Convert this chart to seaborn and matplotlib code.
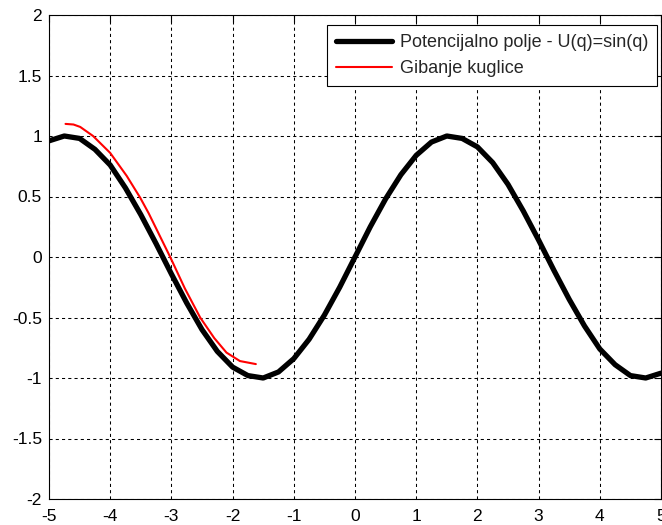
import numpy as np
import pandas as pd
import matplotlib
matplotlib.use("Agg")
import matplotlib.pyplot as plt
import seaborn as sns

# potential U(q) = sin(q)
q_pot = [-5.0, -4.75, -4.5, -4.25, -4.0, -3.75, -3.5, -3.25, -3.0, -2.75,
         -2.5, -2.25, -2.0, -1.75, -1.5, -1.25, -1.0, -0.75, -0.5, -0.25,
         0.0, 0.25, 0.5, 0.75, 1.0, 1.25, 1.5, 1.75, 2.0, 2.25,
         2.5, 2.75, 3.0, 3.25, 3.5, 3.75, 4.0, 4.25, 4.5, 4.75, 5.0]
u_pot = [0.96, 1.00, 0.98, 0.89, 0.76, 0.57, 0.35, 0.11, -0.14, -0.38,
         -0.60, -0.78, -0.91, -0.98, -1.00, -0.95, -0.84, -0.68, -0.48, -0.25,
         0.00, 0.25, 0.48, 0.68, 0.84, 0.95, 1.00, 0.98, 0.91, 0.78,
         0.60, 0.38, 0.14, -0.11, -0.35, -0.57, -0.76, -0.89, -0.98, -1.00, -0.96]

# ball trajectory
q_ball = [-4.73, -4.60, -4.49, -4.28, -4.00, -3.73, -3.51, -3.37, -3.02,
          -2.78, -2.53, -2.30, -2.10, -1.88, -1.62]
u_ball = [1.10, 1.095, 1.075, 1.00, 0.86, 0.67, 0.49, 0.36, 0.00,
          -0.26, -0.50, -0.67, -0.79, -0.86, -0.885]

pot = pd.DataFrame({"q": q_pot, "U": u_pot})
ball = pd.DataFrame({"q": q_ball, "U": u_ball})

sns.set_style("white")
plt.rcParams["font.family"] = ["Liberation Sans", "DejaVu Sans"]
plt.rcParams["axes.unicode_minus"] = False

fig = plt.figure(figsize=(6.62, 5.25), dpi=100)
ax = fig.add_axes([49 / 662, 26 / 525, 612 / 662, 484 / 525])

sns.lineplot(data=pot, x="q", y="U", ax=ax, color="black", linewidth=3.8,
             label="Potencijalno polje - U(q)=sin(q)")
sns.lineplot(data=ball, x="q", y="U", ax=ax, color="red", linewidth=1.5,
             label="Gibanje kuglice")

ax.set_xlim(-5, 5)
ax.set_ylim(-2, 2)
ax.set_xticks(np.arange(-5, 6, 1))
ax.set_yticks(np.arange(-2, 2.5, 0.5))
ax.set_yticklabels(["-2", "-1.5", "-1", "-0.5", "0", "0.5", "1", "1.5", "2"])
ax.set_xlabel("")
ax.set_ylabel("")
ax.grid(True, color="black", linestyle=(0, (3, 3)), linewidth=0.75)
ax.tick_params(direction="in", length=5, width=0.8, top=True, right=True,
               labelsize=12.5, colors="black")
ax.tick_params(axis="x", pad=7)
ax.tick_params(axis="y", pad=5)
for s in ax.spines.values():
    s.set_color("black")
    s.set_linewidth(0.8)

leg = ax.legend(loc="upper right", bbox_to_anchor=(1 - 4 / 612, 1 - 10 / 484),
                borderaxespad=0, fancybox=False, framealpha=1, edgecolor="black",
                fontsize=13, handlelength=3.1, handletextpad=0.4,
                labelspacing=0.5, borderpad=0.5)
leg.get_frame().set_linewidth(0.8)

fig.savefig("out.png", dpi=100)
